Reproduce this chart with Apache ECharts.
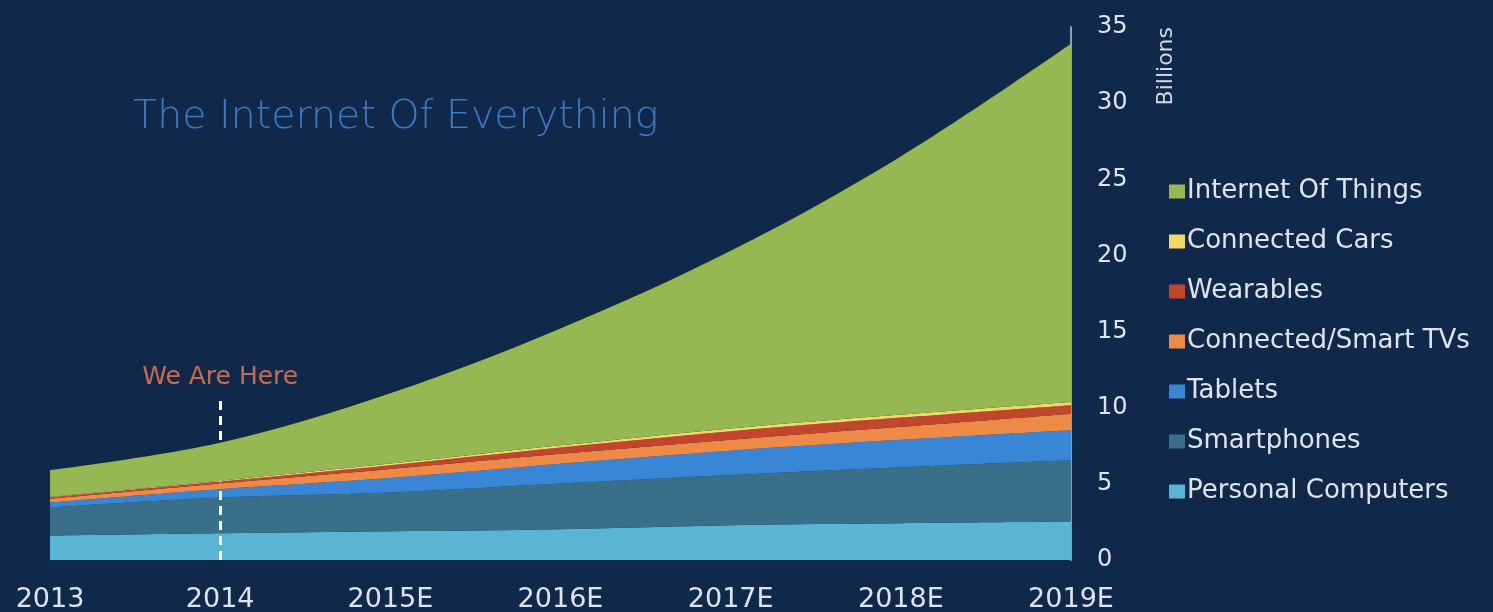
<!DOCTYPE html>
<html>
<head>
<meta charset="utf-8">
<script src="https://cdn.jsdelivr.net/npm/echarts@6/dist/echarts.min.js"></script>
<style>
  html, body { margin: 0; padding: 0; background: #10294a; }
  #chart { width: 1493px; height: 612px; }
</style>
</head>
<body>
<div id="chart"></div>
<script>
// Connected devices by category, in billions (stacked, bottom to top)
const years = ['2013', '2014', '2015E', '2016E', '2017E', '2018E', '2019E'];
const personalComputers = [1.60, 1.75, 1.88, 2.02, 2.28, 2.41, 2.52];
const smartphones       = [1.85, 2.35, 2.55, 3.00, 3.30, 3.68, 4.03];
const tablets           = [0.33, 0.55, 0.95, 1.30, 1.60, 1.80, 1.97];
const smartTVs          = [0.25, 0.38, 0.60, 0.65, 0.72, 0.86, 1.09];
const wearables         = [0.08, 0.12, 0.25, 0.42, 0.56, 0.60, 0.56];
const connectedCars     = [0.04, 0.06, 0.10, 0.14, 0.18, 0.20, 0.21];
const internetOfThings  = [1.75, 2.49, 4.62, 7.67, 11.66, 16.95, 23.52];

const yTicks = [0, 5, 10, 15, 20, 25, 30, 35];
const markerYear = '2014';
const markerTop = 10.5;

const seriesDefs = [
  { name: 'Personal Computers', data: personalComputers, color: '#5ab4d4' },
  { name: 'Smartphones', data: smartphones, color: '#3a6f89' },
  { name: 'Tablets', data: tablets, color: '#3a86d6' },
  { name: 'Connected/Smart TVs', data: smartTVs, color: '#ee8a48' },
  { name: 'Wearables', data: wearables, color: '#c2462c' },
  { name: 'Connected Cars', data: connectedCars, color: '#f2d865' },
  { name: 'Internet Of Things', data: internetOfThings, color: '#96b852' }
];

const labelFont = '"DejaVu Sans", sans-serif';

const chart = echarts.init(document.getElementById('chart'), null, { renderer: 'canvas' });

const series = seriesDefs.map((s, i) => ({
  name: s.name,
  type: 'line',
  stack: 'total',
  smooth: 0.35,
  showSymbol: false,
  symbol: 'none',
  data: s.data,
  itemStyle: { color: s.color },
  lineStyle: { width: 0, color: s.color },
  areaStyle: { color: s.color, opacity: 1 },
  z: 2 + i
}));

// Dashed "We Are Here" marker
series.push({
  name: 'marker',
  type: 'line',
  data: [],
  z: 20,
  markLine: {
    silent: true,
    symbol: ['none', 'none'],
    lineStyle: { color: '#ffffff', type: [9, 6], width: 3 },
    label: {
      show: true,
      position: 'end',
      formatter: 'We Are Here',
      color: '#c86c4c',
      fontSize: 25,
      fontFamily: labelFont,
      distance: 10
    },
    data: [[{ coord: [markerYear, 0] }, { coord: [markerYear, markerTop] }]]
  }
});

chart.setOption({
  backgroundColor: '#10294a',
  animation: false,
  title: {
    text: 'The Internet Of Everything',
    left: 128,
    top: 93,
    textStyle: {
      color: '#3b79c2',
      fontSize: 39.5,
      fontWeight: 200,
      fontFamily: labelFont
    }
  },
  graphic: [{
    type: 'text',
    left: 1155,
    top: 27,
    rotation: Math.PI / 2,
    style: {
      text: 'Billions',
      fill: '#cfd7e1',
      font: '22px ' + labelFont
    }
  }],
  legend: {
    orient: 'vertical',
    left: 1164,
    top: 173,
    itemWidth: 16,
    itemHeight: 14,
    itemGap: 23,
    icon: 'rect',
    selectedMode: false,
    data: seriesDefs.map(s => s.name).reverse(),
    textStyle: {
      color: '#dde4ec',
      fontSize: 26,
      lineHeight: 27,
      fontFamily: labelFont,
      padding: [0, 0, 0, -3]
    }
  },
  grid: { left: 50, right: 422, top: 27, bottom: 52, containLabel: false, outerBoundsMode: 'none' },
  xAxis: {
    type: 'category',
    data: years,
    boundaryGap: false,
    axisLine: { show: false },
    axisTick: { show: false },
    axisLabel: {
      color: '#dde4ec',
      fontSize: 27,
      fontFamily: labelFont,
      margin: 26,
      interval: 0
    },
    splitLine: { show: false }
  },
  yAxis: {
    type: 'value',
    position: 'right',
    min: yTicks[0],
    max: yTicks[yTicks.length - 1],
    interval: 5,
    axisLine: { show: true, lineStyle: { color: '#8a9cb3', width: 2 } },
    axisTick: { show: false },
    splitLine: { show: false },
    axisLabel: {
      color: '#dde4ec',
      fontSize: 24,
      fontFamily: labelFont,
      margin: 26,
      align: 'left'
    }
  },
  series: series
});
</script>
</body>
</html>
